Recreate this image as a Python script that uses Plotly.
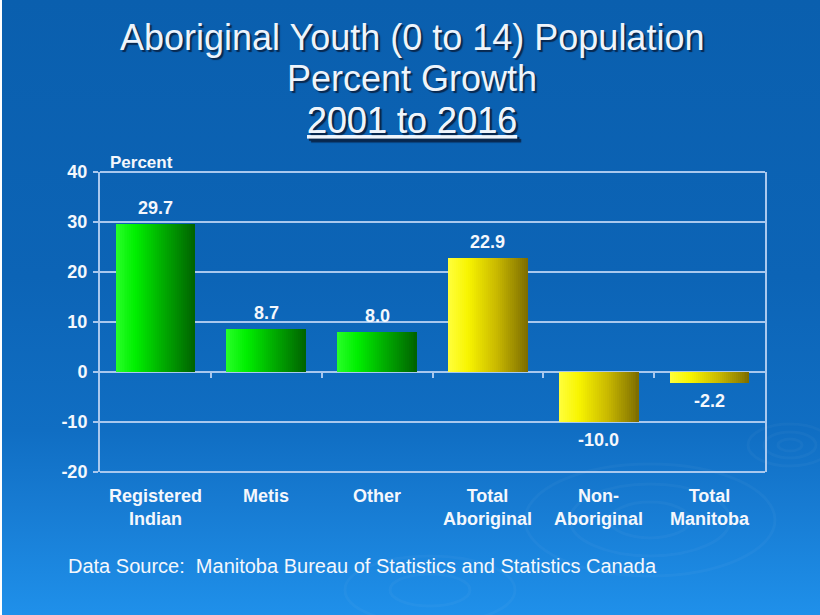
import base64
import plotly.graph_objects as go

# ---- data -------------------------------------------------------------
categories = ["Registered<br>Indian", "Metis", "Other",
              "Total<br>Aboriginal", "Non-<br>Aboriginal", "Total<br>Manitoba"]
growth_pct = [29.7, 8.7, 8.0, 22.9, -10.0, -2.2]
bar_family = ["green", "green", "green", "yellow", "yellow", "yellow"]
y_ticks = [-20, -10, 0, 10, 20, 30, 40]
y_tick_text = ["-20", "-10", "0", "10", "20", "30", "40"]

title_lines = ["Aboriginal Youth (0 to 14) Population", "Percent Growth", "2001 to 2016"]
source_note = "Data Source:  Manitoba Bureau of Statistics and Statistics Canada"

# ---- styling ----------------------------------------------------------
W, H = 820, 615
M_L, M_R, M_T, M_B = 100, 55, 172, 143
FONT = "Liberation Sans, Arial, Helvetica, sans-serif"
GRID = "#a9c8ee"
TEXT = "#f4f7fc"
BAR_W = 0.72
SLICES = 40

# horizontal shading of the bars, light on the left to dark on the right
SHADES = {
    "green": [(0.0, (40, 255, 40)), (0.25, (0, 240, 0)), (0.6, (0, 172, 0)), (1.0, (0, 98, 0))],
    "yellow": [(0.0, (255, 255, 60)), (0.25, (248, 244, 0)), (0.6, (202, 186, 0)), (1.0, (124, 108, 0))],
}


def shade(family, t):
    stops = SHADES[family]
    for (t0, c0), (t1, c1) in zip(stops, stops[1:]):
        if t <= t1:
            f = (t - t0) / (t1 - t0)
            return "rgb(%d,%d,%d)" % tuple(round(a + (b - a) * f) for a, b in zip(c0, c1))
    return "rgb(%d,%d,%d)" % stops[-1][1]


x_pos = list(range(len(categories)))
y_min, y_max = y_ticks[0], y_ticks[-1]

fig = go.Figure()

# each bar is layered from overlapping slices, each narrower than the last,
# so the colour steps from left to right without seams
for k in range(SLICES):
    t = (k + 0.5) / SLICES
    fig.add_trace(go.Bar(
        x=x_pos, y=growth_pct,
        offset=-BAR_W / 2 + BAR_W * k / SLICES,
        width=BAR_W * (SLICES - k) / SLICES,
        marker=dict(color=[shade(f, t) for f in bar_family], line=dict(width=0), opacity=1),
        hoverinfo="skip", showlegend=False,
    ))

annotations = []

# value labels
for x, v in zip(x_pos, growth_pct):
    annotations.append(dict(
        x=x, y=v, xref="x", yref="y", text=f"{v:.1f}", showarrow=False,
        yanchor="bottom" if v >= 0 else "top", yshift=4 if v >= 0 else -6,
        font=dict(family=FONT, size=18, color=TEXT, weight="bold"),
    ))

# category labels under the plot
for x, c in zip(x_pos, categories):
    annotations.append(dict(
        x=x, y=0, xref="x", yref="paper", text=c, showarrow=False,
        yanchor="top", yshift=-12,
        font=dict(family=FONT, size=18, color=TEXT, weight="bold"),
    ))

# axis caption
annotations.append(dict(
    x=0.012, y=1, xref="paper", yref="paper", text="Percent", showarrow=False,
    xanchor="left", yanchor="bottom", yshift=-2,
    font=dict(family=FONT, size=17, color=TEXT, weight="bold"),
))

# title lines
plot_w, plot_h = W - M_L - M_R, H - M_T - M_B
title_y = [38, 78, 120]
for i, (line, py) in enumerate(zip(title_lines, title_y)):
    annotations.append(dict(
        x=(412 - M_L) / plot_w, y=(H - M_B - py) / plot_h, xref="paper", yref="paper",
        text=line, showarrow=False, xanchor="center", yanchor="middle",
        font=dict(family=FONT, size=36, color="#eef4fb",
                  shadow="2px 2px 1px #08284f",
                  lineposition="under" if i == 2 else "none"),
    ))

# source note
annotations.append(dict(
    x=(66 - M_L) / plot_w, y=(H - M_B - 566) / plot_h, xref="paper", yref="paper",
    text=source_note, showarrow=False, xanchor="left", yanchor="middle",
    font=dict(family=FONT, size=20, color=TEXT),
))

# top and bottom edges of the plot frame
frame = [
    dict(type="line", xref="paper", yref="paper", x0=0, x1=1, y0=y0, y1=y0,
         line=dict(color=GRID, width=2), layer="above")
    for y0 in (0, 1)
]

# slide background: vertical blue gradient with faint ripples
svg = f"""<svg xmlns="http://www.w3.org/2000/svg" width="{W}" height="{H}" viewBox="0 0 {W} {H}" preserveAspectRatio="none">
<defs><linearGradient id="g" x1="0" y1="0" x2="0" y2="1">
<stop offset="0" stop-color="#0a5fae"/>
<stop offset="0.45" stop-color="#0c64b6"/>
<stop offset="0.7" stop-color="#106ec3"/>
<stop offset="0.82" stop-color="#177bd2"/>
<stop offset="1" stop-color="#1f90ea"/>
</linearGradient></defs>
<rect width="{W}" height="{H}" fill="#ffffff"/>
<rect x="2" width="{W - 2}" height="{H}" fill="url(#g)"/>
<g fill="none" stroke="#ffffff" stroke-opacity="0.03" stroke-width="3">
<ellipse cx="790" cy="445" rx="12" ry="6"/><ellipse cx="790" cy="445" rx="26" ry="13"/>
<ellipse cx="790" cy="445" rx="42" ry="21"/>
<ellipse cx="650" cy="520" rx="40" ry="18"/><ellipse cx="650" cy="520" rx="80" ry="36"/>
<ellipse cx="650" cy="520" rx="125" ry="56"/>
<ellipse cx="430" cy="590" rx="40" ry="16"/><ellipse cx="430" cy="590" rx="85" ry="34"/>
</g>
</svg>"""
bg_src = "data:image/svg+xml;base64," + base64.b64encode(svg.encode()).decode()

fig.update_layout(
    width=W, height=H,
    margin=dict(l=M_L, r=M_R, t=M_T, b=M_B),
    barmode="overlay",
    bargap=0,
    paper_bgcolor="#0c64b6",
    plot_bgcolor="rgba(0,0,0,0)",
    showlegend=False,
    annotations=annotations,
    shapes=frame,
    images=[dict(
        source=bg_src, xref="paper", yref="paper",
        x=-M_L / plot_w, y=1 + M_T / plot_h, sizex=W / plot_w, sizey=H / plot_h,
        xanchor="left", yanchor="top", sizing="stretch", layer="below",
    )],
    xaxis=dict(
        range=[-0.5, len(categories) - 0.5],
        anchor="free", position=(0 - y_min) / (y_max - y_min),
        tickmode="array", tickvals=[x + 0.5 for x in x_pos[:-1]],
        showticklabels=False, ticks="outside", ticklen=5, tickwidth=1.5, tickcolor=GRID,
        showgrid=False, zeroline=False, showline=False, fixedrange=True,
    ),
    yaxis=dict(
        range=[y_min, y_max], tickmode="array", tickvals=y_ticks, ticktext=y_tick_text,
        ticks="outside", ticklen=5, tickwidth=2, tickcolor=GRID,
        showgrid=True, gridcolor=GRID, gridwidth=2,
        zeroline=True, zerolinecolor=GRID, zerolinewidth=2,
        showline=True, linecolor=GRID, linewidth=2, mirror=True,
        tickfont=dict(family=FONT, size=18, color=TEXT, weight="bold"),
        ticklabelstandoff=2, fixedrange=True,
    ),
)

fig.write_html("out.html")
